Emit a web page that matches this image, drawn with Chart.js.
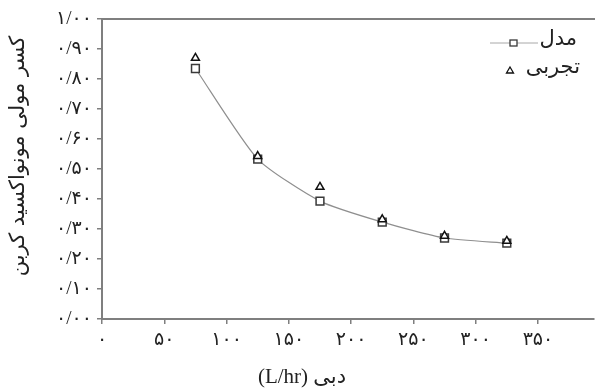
<!DOCTYPE html>
<html>
<head>
<meta charset="utf-8">
<script src="https://cdn.jsdelivr.net/npm/chart.js@4"></script>
<style>
  body { margin: 0; background: #fff; }
  #wrap { width: 601px; height: 389px; }
</style>
</head>
<body>
<div id="wrap"><canvas id="flowChart" width="601" height="389"></canvas></div>
<script>
// data
const flowRates = [75, 125, 175, 225, 275, 325];
const modelValues = [0.835, 0.533, 0.393, 0.323, 0.27, 0.253];
const expValues = [0.87, 0.543, 0.44, 0.332, 0.277, 0.26];

const xTicks = [0, 50, 100, 150, 200, 250, 300, 350];
const xTickLabels = ["۰", "۵۰", "۱۰۰", "۱۵۰", "۲۰۰", "۲۵۰", "۳۰۰", "۳۵۰"];
const yTickLabels = ["۰/۰۰", "۰/۱۰", "۰/۲۰", "۰/۳۰", "۰/۴۰", "۰/۵۰", "۰/۶۰", "۰/۷۰", "۰/۸۰", "۰/۹۰", "۱/۰۰"];

const seriesNames = ["مدل", "تجربی"];
const xTitle = "دبی (L/hr)";
const yTitle = "کسر مولی مونواکسید کربن";

const axisColor = "#7f7f7f";
const faFont = "'Liberation Serif', 'DejaVu Sans'";

// axis titles and legend drawn by hand, the built-in ones can't sit where the figure has them
const extras = {
    id: "extras",
    afterDraw(chart) {
        const ctx = chart.ctx;
        const area = chart.chartArea;
        ctx.save();
        ctx.fillStyle = "#222";

        // y title
        ctx.font = "21px 'DejaVu Sans'";
        ctx.textAlign = "center";
        ctx.textBaseline = "middle";
        ctx.translate(19, 156);
        ctx.rotate(-Math.PI / 2);
        ctx.direction = "rtl";
        ctx.fillText(yTitle, 0, 0);
        ctx.setTransform(1, 0, 0, 1, 0, 0);

        // x title
        ctx.font = "21px " + faFont;
        ctx.direction = "rtl";
        ctx.fillText(xTitle, 302, 377);

        // legend
        const lx = area.right - 15;
        ctx.font = "21px 'DejaVu Sans'";
        ctx.textAlign = "right";
        ctx.fillText(seriesNames[0], lx - 2, 40);
        ctx.fillText(seriesNames[1], lx + 1, 68);

        ctx.strokeStyle = "#a8a8a8";
        ctx.lineWidth = 1;
        ctx.beginPath();
        ctx.moveTo(490, 43);
        ctx.lineTo(538, 43);
        ctx.stroke();

        ctx.fillStyle = "#fff";
        ctx.strokeStyle = "#3a3a3a";
        ctx.lineWidth = 1.3;
        ctx.fillRect(510, 40, 7, 6);
        ctx.strokeRect(510, 40, 7, 6);

        ctx.strokeStyle = "#111";
        ctx.beginPath();
        ctx.moveTo(510, 67);
        ctx.lineTo(513.5, 73);
        ctx.lineTo(506.5, 73);
        ctx.closePath();
        ctx.fill();
        ctx.stroke();
        ctx.restore();
    }
};

const ctx = document.getElementById("flowChart").getContext("2d");
new Chart(ctx, {
    type: "scatter",
    data: {
        datasets: [{
            label: seriesNames[0],
            data: flowRates.map((x, i) => ({ x: x, y: modelValues[i] })),
            showLine: true,
            borderColor: "#8f8f8f",
            borderWidth: 1.2,
            tension: 0.2,
            pointStyle: "rect",
            pointRadius: 5.5,
            pointBackgroundColor: "#fff",
            pointBorderColor: "#3a3a3a",
            pointBorderWidth: 1.5,
            order: 2
        }, {
            label: seriesNames[1],
            data: flowRates.map((x, i) => ({ x: x, y: expValues[i] })),
            showLine: false,
            pointStyle: "triangle",
            pointRadius: 4.6,
            pointBackgroundColor: "#fff",
            pointBorderColor: "#111",
            pointBorderWidth: 1.5,
            order: 1
        }]
    },
    options: {
        responsive: false,
        animation: false,
        layout: { padding: 0 },
        plugins: {
            legend: { display: false },
            tooltip: { enabled: false }
        },
        scales: {
            x: {
                type: "linear",
                min: 0,
                max: 395,
                afterBuildTicks: s => { s.ticks = xTicks.map(v => ({ value: v })); },
                afterFit: s => { s.height = 70; },
                ticks: {
                    callback: (v, i) => xTickLabels[i],
                    color: "#222",
                    font: { family: faFont, size: 19 },
                    padding: 5,
                    maxRotation: 0,
                    autoSkip: false
                },
                grid: { drawOnChartArea: false, tickLength: 5, color: axisColor, lineWidth: 1.5 },
                border: { color: axisColor, width: 2 }
            },
            x2: {
                type: "linear",
                position: "top",
                min: 0,
                max: 395,
                afterFit: s => { s.height = 19; },
                ticks: { display: false },
                grid: { display: false },
                border: { color: axisColor, width: 2 }
            },
            y: {
                min: 0,
                max: 1,
                afterBuildTicks: s => { s.ticks = yTickLabels.map((t, i) => ({ value: i / 10 })); },
                afterFit: s => { s.width = 102; },
                ticks: {
                    callback: (v, i) => yTickLabels[i],
                    color: "#222",
                    font: { family: faFont, size: 19 },
                    padding: 5,
                    autoSkip: false
                },
                grid: { drawOnChartArea: false, tickLength: 5, color: axisColor, lineWidth: 1.5 },
                border: { color: axisColor, width: 2 }
            }
        }
    },
    plugins: [extras]
});
</script>
</body>
</html>
